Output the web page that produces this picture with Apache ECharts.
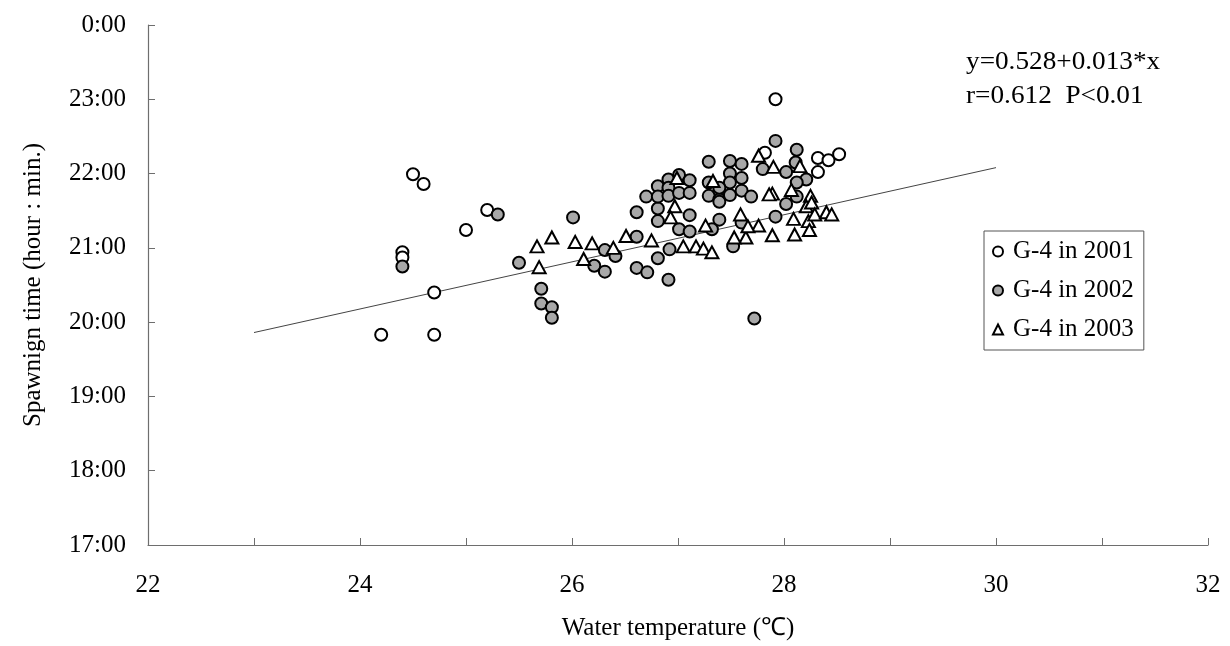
<!DOCTYPE html>
<html>
<head>
<meta charset="utf-8">
<style>html,body{margin:0;padding:0;background:#fff;}#c{width:1230px;height:646px;}</style>
<script src="https://cdn.jsdelivr.net/npm/echarts@6/dist/echarts.min.js"></script>
</head>
<body>
<div id="c"></div>
<script>
// x: water temperature (°C), y: spawning time in hours (24 = 0:00)
const seriesNames = ['G-4 in 2001', 'G-4 in 2002', 'G-4 in 2003'];
const data2001 = [
  [24.2, 19.83], [24.4, 20.94], [24.4, 20.87], [24.5, 21.99], [24.6, 21.86],
  [24.7, 20.40], [24.7, 19.83], [25.0, 21.24], [25.2, 21.51], [27.82, 22.28],
  [27.92, 23.00], [28.32, 22.21], [28.42, 22.18], [28.32, 22.02], [28.52, 22.26]
];
const data2002 = [
  [24.4, 20.75], [25.3, 21.45], [25.5, 20.80], [25.71, 20.45], [25.71, 20.25],
  [25.81, 20.20], [25.81, 20.06], [26.01, 21.41], [26.21, 20.76], [26.31, 20.68],
  [26.31, 20.97], [26.41, 20.89], [26.61, 21.15], [26.61, 20.73], [26.71, 20.67],
  [26.91, 20.57], [26.81, 20.86], [26.92, 20.98], [26.61, 21.48], [26.81, 21.53],
  [26.81, 21.36], [27.11, 21.44], [27.01, 21.25], [27.11, 21.22], [27.92, 22.44],
  [28.12, 22.32], [27.29, 22.16], [27.49, 22.17], [27.60, 22.13], [27.80, 22.06],
  [28.02, 22.02], [28.11, 22.15], [28.21, 21.92], [27.49, 22.00], [27.60, 21.94],
  [27.29, 21.70], [27.39, 21.77], [27.39, 21.65], [27.39, 21.62], [27.49, 21.71],
  [27.60, 21.77], [27.69, 21.69], [28.12, 21.69], [28.12, 21.88], [28.02, 21.59],
  [27.92, 21.42], [27.60, 21.34], [27.52, 21.02], [27.39, 21.38], [27.32, 21.25],
  [26.70, 21.69], [26.81, 21.83], [26.81, 21.69], [26.91, 21.92], [26.91, 21.81],
  [26.91, 21.70], [27.01, 21.98], [27.01, 21.74], [27.11, 21.91], [27.11, 21.74],
  [27.72, 20.05], [27.49, 21.88], [27.39, 21.81], [27.29, 21.88]
];
const data2003 = [
  [25.67, 21.02], [25.81, 21.14], [26.03, 21.08], [26.19, 21.06], [25.69, 20.74],
  [26.11, 20.85], [26.39, 21.00], [26.51, 21.16], [26.75, 21.10], [27.05, 21.02],
  [27.17, 21.02], [27.24, 20.99], [26.97, 21.56], [26.93, 21.41], [27.26, 21.30],
  [27.32, 20.94], [27.76, 22.24], [27.90, 22.09], [28.15, 22.10], [27.33, 21.90],
  [26.99, 21.94], [27.89, 21.73], [27.86, 21.72], [28.07, 21.78], [28.25, 21.70],
  [28.21, 21.56], [28.26, 21.61], [28.09, 21.39], [28.23, 21.36], [28.29, 21.45],
  [28.40, 21.48], [28.45, 21.45], [28.10, 21.18], [28.24, 21.24], [27.89, 21.17],
  [27.76, 21.30], [27.64, 21.14], [27.53, 21.14], [27.59, 21.45], [27.66, 21.29]
];
const fitLine = [[23, 19.86], [30, 22.08]];
const equationLines = ['y=0.528+0.013*x', 'r=0.612  P<0.01'];
const xTitle = 'Water temperature (\u2103)';
const yTitle = 'Spawnign time (hour : min.)';

const FONT = '"Liberation Serif", "Times New Roman", serif';
const chart = echarts.init(document.getElementById('c'), null, {renderer: 'canvas'});
const axisGray = '#6e6e6e';

const option = {
  backgroundColor: '#ffffff',
  animation: false,
  grid: {left: 148, right: 22, top: 25, bottom: 99, containLabel: false},
  xAxis: {
    type: 'value', min: 22, max: 32, interval: 2,
    name: xTitle, nameLocation: 'middle', nameGap: 71,
    nameTextStyle: {fontFamily: FONT, fontSize: 25, color: '#000'},
    axisLine: {show: true, lineStyle: {color: axisGray, width: 1.2}},
    axisTick: {show: true, inside: true, length: 7, lineStyle: {color: axisGray}},
    minorTick: {show: true, splitNumber: 2, length: 7, lineStyle: {color: axisGray}},
    splitLine: {show: false}, minorSplitLine: {show: false},
    axisLabel: {fontFamily: FONT, fontSize: 25, color: '#000', margin: 28}
  },
  yAxis: {
    type: 'value', min: 17, max: 24, interval: 1,
    name: yTitle, nameLocation: 'middle', nameGap: 102, nameRotate: 90,
    nameTextStyle: {fontFamily: FONT, fontSize: 25, color: '#000'},
    axisLine: {show: true, lineStyle: {color: axisGray, width: 1.2}},
    axisTick: {show: true, inside: true, length: 7, lineStyle: {color: axisGray}},
    splitLine: {show: false},
    axisLabel: {fontFamily: FONT, fontSize: 25, color: '#000', margin: 22,
      formatter: v => (v % 24) + ':00'}
  },
  legend: {
    orient: 'vertical', left: 984, top: 231,
    data: seriesNames,
    itemWidth: 10, itemHeight: 10, itemGap: 14,
    padding: [8, 10, 8, 8],
    borderColor: '#555', borderWidth: 1,
    textStyle: {fontFamily: FONT, fontSize: 25, color: '#000', padding: [0, 0, 0, 5]}
  },
  graphic: [
    {type: 'text', left: 966, top: 50, scaleX: 1.09, style: {text: equationLines[0], font: '25px ' + FONT, fill: '#000'}},
    {type: 'text', left: 966, top: 84, scaleX: 1.09, style: {text: equationLines[1], font: '25px ' + FONT, fill: '#000'}}
  ],
  series: [
    {type: 'line', data: fitLine, showSymbol: false, symbol: 'none', silent: true, z: 1,
      lineStyle: {color: '#444', width: 1}},
    {name: seriesNames[0], type: 'scatter', data: data2001, symbol: 'circle', symbolSize: 12, z: 2,
      itemStyle: {color: '#ffffff', borderColor: '#000', borderWidth: 2, opacity: 1}},
    {name: seriesNames[1], type: 'scatter', data: data2002, symbol: 'circle', symbolSize: 12, z: 3,
      itemStyle: {color: '#a8a8a8', borderColor: '#000', borderWidth: 2, opacity: 1}},
    {name: seriesNames[2], type: 'scatter', data: data2003, symbol: 'triangle', symbolSize: [13, 12], z: 4,
      itemStyle: {color: '#ffffff', borderColor: '#000', borderWidth: 2, opacity: 1}}
  ]
};
chart.setOption(option);
</script>
</body>
</html>
